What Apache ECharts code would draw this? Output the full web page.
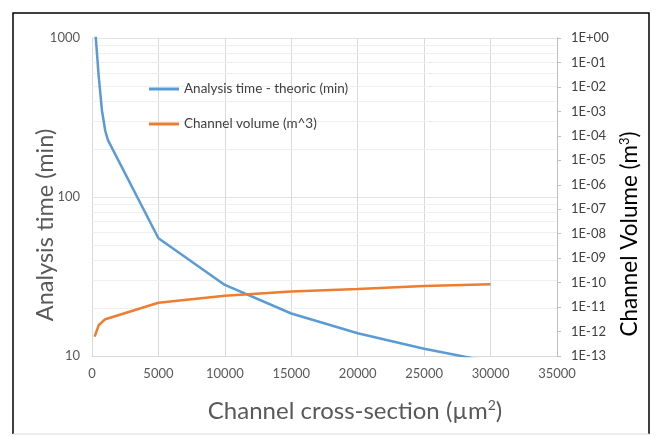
<!DOCTYPE html>
<html>
<head>
<meta charset="utf-8">
<script src="https://cdn.jsdelivr.net/npm/echarts@6/dist/echarts.min.js"></script>
<style>
  html, body { margin: 0; padding: 0; background: #ffffff; }
  #chart { width: 656px; height: 436px; }
</style>
</head>
<body>
<div id="chart"></div>
<script>
// Theoretical analysis time (min) versus channel cross-section (µm²)
const timeX = [250, 500, 750, 1000, 1200, 5000, 10000, 15000, 20000, 25000, 30000];
const timeMin = [1100, 580, 350, 260, 228, 55, 28, 18.5, 13.9, 11.1, 9.2];

// Channel volume (m³) versus channel cross-section (µm²)
const volX = [200, 500, 1000, 5000, 10000, 15000, 20000, 25000, 30000];
const volM3 = [6.2e-13, 1.8e-12, 3.2e-12, 1.5e-11, 2.9e-11, 4.3e-11, 5.5e-11, 7.2e-11, 8.5e-11];

// Minor gridlines on the left log axis (2..9 of each decade)
const minorGrid = [20, 30, 40, 50, 60, 70, 80, 90, 200, 300, 400, 500, 600, 700, 800, 900];

const seriesNames = ['Analysis time - theoric (min)', 'Channel volume (m^3)'];

const FONT = 'Lato, "Open Sans", sans-serif';

function sciLabel(v) {
  const e = Math.round(Math.log10(v));
  const s = String(Math.abs(e)).padStart(2, '0');
  return '1E' + (e < 0 ? '-' : '+') + s;
}

function plainLabel(v) {
  return String(Math.round(v));
}

const chart = echarts.init(document.getElementById('chart'), null, { renderer: 'canvas' });

chart.setOption({
  animation: false,
  backgroundColor: '#ffffff',
  textStyle: { fontFamily: FONT },
  grid: { left: 92, right: 99, top: 38, bottom: 80, containLabel: false },
  legend: {
    orient: 'vertical',
    left: 149,
    top: 82,
    padding: 0,
    itemGap: 21,
    itemWidth: 30,
    itemHeight: 3,
    icon: 'rect',
    data: seriesNames,
    textStyle: { color: '#404040', fontSize: 13.5, fontFamily: FONT }
  },
  xAxis: {
    type: 'value',
    min: 0,
    max: 35000,
    interval: 5000,
    axisLine: { show: true, lineStyle: { color: '#d9d9d9', width: 1 } },
    axisTick: { show: false },
    axisLabel: { color: '#595959', fontSize: 13, margin: 11, fontFamily: FONT, formatter: plainLabel },
    splitLine: { show: true, lineStyle: { color: '#d9d9d9', width: 1 } }
  },
  yAxis: [
    {
      type: 'log',
      logBase: 10,
      min: 10,
      max: 1000,
      position: 'left',
      axisLine: { show: true, lineStyle: { color: '#d9d9d9' } },
      axisTick: { show: false },
      axisLabel: { color: '#595959', fontSize: 13, margin: 12, fontFamily: FONT, formatter: plainLabel },
      splitLine: { show: true, lineStyle: { color: '#e3e3e3', width: 1 } }
    },
    {
      type: 'log',
      logBase: 10,
      min: 1e-13,
      max: 1,
      interval: 1,
      splitNumber: 13,
      position: 'right',
      axisLine: { show: true, lineStyle: { color: '#bfbfbf' } },
      axisTick: { show: true, inside: false, length: 4, lineStyle: { color: '#bfbfbf' } },
      axisLabel: { color: '#404040', fontSize: 13, margin: 14, fontFamily: FONT, formatter: sciLabel },
      splitLine: { show: false }
    }
  ],
  series: [
    {
      name: seriesNames[0],
      type: 'line',
      yAxisIndex: 0,
      data: timeX.map((x, i) => [x, timeMin[i]]),
      showSymbol: false,
      symbol: 'none',
      clip: true,
      color: '#5b9bd5',
      lineStyle: { color: '#5b9bd5', width: 2.5 },
      z: 3,
      markLine: {
        silent: true,
        symbol: 'none',
        label: { show: false },
        lineStyle: { color: '#efefef', width: 1, type: 'solid' },
        data: minorGrid.map(v => ({ yAxis: v })),
        z: 1
      }
    },
    {
      name: seriesNames[1],
      type: 'line',
      yAxisIndex: 1,
      data: volX.map((x, i) => [x, volM3[i]]),
      showSymbol: false,
      symbol: 'none',
      clip: true,
      color: '#ed7d31',
      lineStyle: { color: '#ed7d31', width: 2.5 },
      z: 4
    }
  ],
  graphic: [
    {
      type: 'text',
      x: 355,
      y: 411,
      style: {
        text: '{n|Channel cross-section (µm}{s|2}{n|)}',
        rich: {
          n: { fontSize: 24, fill: '#595959', fontFamily: FONT },
          s: { fontSize: 14, fill: '#595959', fontFamily: FONT, padding: [0, 0, 11, 0] }
        },
        align: 'center',
        verticalAlign: 'middle'
      }
    },
    {
      type: 'text',
      x: 45,
      y: 225,
      rotation: Math.PI / 2,
      style: {
        text: 'Analysis time (min)',
        fontSize: 23.5,
        fill: '#595959',
        fontFamily: FONT,
        align: 'center',
        verticalAlign: 'middle'
      }
    },
    {
      type: 'text',
      x: 630,
      y: 234,
      rotation: Math.PI / 2,
      style: {
        text: '{n|Channel Volume (m}{s|3}{n|)}',
        rich: {
          n: { fontSize: 22.5, fill: '#000000', fontFamily: FONT },
          s: { fontSize: 13, fill: '#000000', fontFamily: FONT, padding: [0, 0, 10, 0] }
        },
        align: 'center',
        verticalAlign: 'middle'
      }
    },
    {
      type: 'polyline',
      shape: { points: [[13, 434], [13, 13], [649, 13], [649, 434]] },
      style: { stroke: '#000000', lineWidth: 1.5, fill: null },
      silent: true
    },
    {
      type: 'line',
      shape: { x1: 13, y1: 434, x2: 649, y2: 434 },
      style: { stroke: '#d9d9d9', lineWidth: 1 },
      silent: true
    }
  ]
});
</script>
</body>
</html>
